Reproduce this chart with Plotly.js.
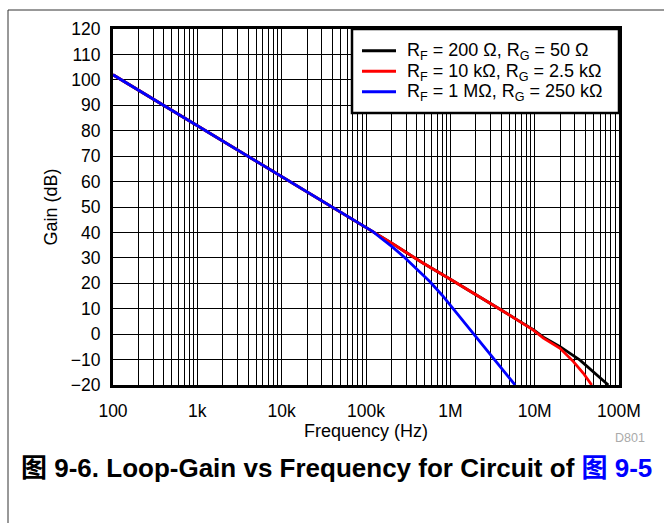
<!DOCTYPE html>
<html>
<head>
<meta charset="utf-8">
<script src="https://cdn.plot.ly/plotly-3.0.1.min.js"></script>
<style>
html,body{margin:0;padding:0;background:#fff;}
#chart{width:664px;height:523px;}
</style>
</head>
<body>
<div id="chart"></div>
<script>
// Frequency (Hz) and gain (dB)
const freqBlack = [100, 1e3, 1e4, 3.74e4, 1e5, 1.22e5, 2e5, 3e5, 4.78e5, 1e6, 2e6, 3.88e6, 6e6, 9.64e6, 1.27e7, 2e7, 3.45e7, 4.96e7, 7.47e7];
const gainBlack = [102, 82, 62, 50.4, 42.2, 40.3, 35.9, 32.1, 27.9, 21.6, 15.7, 9.8, 5.9, 1.8, -1.2, -4.9, -10.2, -14.8, -20];

const freqRed = [100, 1e3, 1e4, 3.74e4, 1e5, 1.22e5, 2e5, 3e5, 4.78e5, 1e6, 2e6, 3.88e6, 6e6, 9.64e6, 1.27e7, 2e7, 2.88e7, 3.78e7, 4.75e7];
const gainRed = [102, 82, 62, 50.4, 42.2, 40.3, 35.9, 32.1, 27.9, 21.6, 15.7, 9.8, 5.9, 1.6, -1.6, -5.6, -10.8, -15.4, -20];

const freqBlue = [100, 1e3, 1e4, 3.74e4, 1e5, 1.22e5, 1.5e5, 2e5, 2.77e5, 4e5, 5.74e5, 8e5, 9.91e5, 1.4e6, 1.98e6, 3e6, 4e6, 5.85e6];
const gainBlue = [102, 82, 62, 50.4, 42.2, 40.2, 37.8, 34.6, 30.6, 25.5, 20.6, 15.3, 11.5, 5.3, -0.6, -8.0, -13.0, -20];

const seriesNames = [
  'R<sub>F</sub> = 200 Ω, R<sub>G</sub> = 50 Ω',
  'R<sub>F</sub> = 10 kΩ, R<sub>G</sub> = 2.5 kΩ',
  'R<sub>F</sub> = 1 MΩ, R<sub>G</sub> = 250 kΩ'
];
const seriesColors = ['#000000', '#ff0000', '#0000ff'];

const xTickVals = [100, 1e3, 1e4, 1e5, 1e6, 1e7, 1e8];
const xTickText = ['100', '1k', '10k', '100k', '1M', '10M', '100M'];
const yTickVals = [-20, -10, 0, 10, 20, 30, 40, 50, 60, 70, 80, 90, 100, 110, 120];

const FONT = 'Arial, "Liberation Sans", Helvetica, sans-serif';

const xs = [freqBlack, freqRed, freqBlue];
const ys = [gainBlack, gainRed, gainBlue];
const traces = xs.map((x, i) => ({
  x: x, y: ys[i], type: 'scatter', mode: 'lines',
  name: seriesNames[i], showlegend: false,
  line: {color: seriesColors[i], width: 2.8}
}));

const L = 113, R = 619, T = 29, B = 385;
const W = 664, H = 523;
const px = v => (v - L) / (R - L);
const py = v => (B - v) / (B - T);

// legend drawn by hand (box, samples, labels)
const legRows = [50.7, 71.2, 91.7];
const shapes = [
  {type: 'line', xref: 'paper', yref: 'paper', x0: px(8), x1: px(8), y0: py(10), y1: py(523), line: {color: '#333', width: 1}},
  {type: 'line', xref: 'paper', yref: 'paper', x0: px(8), x1: px(664), y0: py(10), y1: py(10), line: {color: '#333', width: 1}},
  {type: 'rect', xref: 'paper', yref: 'paper', layer: 'above', x0: px(352), x1: px(619), y0: py(113), y1: py(29),
   fillcolor: '#fff', line: {color: '#000', width: 2.5}}
];
const annotations = [
  {xref: 'paper', yref: 'paper', x: px(630), y: py(438), xanchor: 'center', yanchor: 'middle',
   text: 'D801', showarrow: false, font: {family: FONT, size: 12.5, color: '#aaaaaa'}},
  {xref: 'paper', yref: 'paper', x: px(19), y: py(468), xanchor: 'left', yanchor: 'middle',
   text: '<b>图 9-6. Loop-Gain vs Frequency for Circuit of <span style="color:#0000ff">图 9-5</span></b>',
   showarrow: false, font: {family: FONT + ', "Noto Sans CJK SC"', size: 26, color: '#000'}}
];
seriesNames.forEach((nm, i) => {
  shapes.push({type: 'line', xref: 'paper', yref: 'paper', layer: 'above',
    x0: px(362), x1: px(396), y0: py(legRows[i]), y1: py(legRows[i]),
    line: {color: seriesColors[i], width: 3}});
  annotations.push({xref: 'paper', yref: 'paper', x: px(405), y: py(legRows[i] + 1), xanchor: 'left', yanchor: 'middle',
    text: nm, showarrow: false, font: {family: FONT, size: 18, color: '#000'}});
});

const layout = {
  width: W, height: H,
  margin: {l: L, r: W - R, t: T, b: H - B, pad: 0},
  paper_bgcolor: '#fff', plot_bgcolor: '#fff',
  font: {family: FONT, size: 17, color: '#000'},
  showlegend: false,
  xaxis: {
    type: 'log', range: [2, 8],
    tickvals: xTickVals, ticktext: xTickText,
    ticks: '', ticklabelstandoff: 8,
    showgrid: true, gridcolor: '#000', gridwidth: 1,
    minor: {dtick: 'D1', showgrid: true, gridcolor: '#000', gridwidth: 1},
    showline: true, linecolor: '#000', linewidth: 3, mirror: true,
    zeroline: false,
    tickfont: {family: FONT, size: 17.5},
    title: {text: 'Frequency (Hz)', font: {family: FONT, size: 18}, standoff: 3}
  },
  yaxis: {
    range: [-20, 120], tickvals: yTickVals,
    ticks: '', ticklabelstandoff: 6,
    showgrid: true, gridcolor: '#000', gridwidth: 1,
    showline: true, linecolor: '#000', linewidth: 3, mirror: true,
    zeroline: false,
    tickfont: {family: FONT, size: 17.5},
    title: {text: 'Gain (dB)', font: {family: FONT, size: 18}, standoff: 9}
  },
  shapes: shapes,
  annotations: annotations
};

Plotly.newPlot('chart', traces, layout, {displayModeBar: false, staticPlot: true});
</script>
</body>
</html>
